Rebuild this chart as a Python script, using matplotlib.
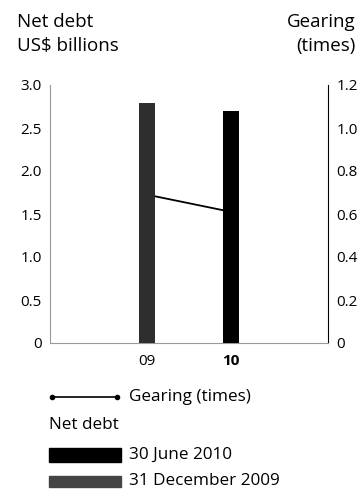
import matplotlib
matplotlib.use('Agg')
import matplotlib.pyplot as plt
from matplotlib.lines import Line2D
from matplotlib.patches import Rectangle

plt.rcParams['font.family'] = ['Open Sans', 'DejaVu Sans']

# data
YEARS      = ['09', '10']
NET_DEBT   = [2.79, 2.70]          # US$ billions
GEARING    = [0.69, 0.61]          # times
BAR_COLORS = ['#2e2e2e', '#000000']

LEFT_TICKS  = [0, 0.5, 1.0, 1.5, 2.0, 2.5, 3.0]
LEFT_LABELS = ['0', '0.5', '1.0', '1.5', '2.0', '2.5', '3.0']
RIGHT_TICKS  = [0, 0.2, 0.4, 0.6, 0.8, 1.0, 1.2]
RIGHT_LABELS = ['0', '0.2', '0.4', '0.6', '0.8', '1.0', '1.2']

TICK_FS  = 11
TITLE_FS = 13.5
LEG_FS   = 12.3

W, H = 359, 492
fig = plt.figure(figsize=(W / 100, H / 100), dpi=100)
ax = fig.add_axes([50 / W, 1 - 343 / H, 278 / W, 258 / H])
ax2 = ax.twinx()

x = list(range(len(YEARS)))
ax.bar(x, NET_DEBT, width=0.2, color=BAR_COLORS, zorder=3)
ax2.plot(x, GEARING, color='black', lw=1.3, zorder=1)
ax.set_zorder(2)
ax.patch.set_visible(False)
ax2.set_zorder(1)

ax.set_xlim(-1.155, 2.155)
ax.set_ylim(0, 3.0)
ax2.set_ylim(0, 1.2)

ax.set_yticks(LEFT_TICKS)
ax.set_yticklabels(LEFT_LABELS, fontsize=TICK_FS)
ax2.set_yticks(RIGHT_TICKS)
ax2.set_yticklabels(RIGHT_LABELS, fontsize=TICK_FS)
ax.set_xticks(x)
ax.set_xticklabels(YEARS, fontsize=TICK_FS)
ax.get_xticklabels()[1].set_fontweight('bold')

ax.tick_params(length=0, pad=6)
ax2.tick_params(length=0, pad=6)
ax.tick_params(axis='x', pad=8)

for a in (ax, ax2):
    a.spines['top'].set_visible(False)
ax.spines['left'].set_color('#9a9a9a')
ax.spines['bottom'].set_color('#9a9a9a')
ax2.spines['left'].set_visible(False)
ax2.spines['bottom'].set_visible(False)
ax2.spines['right'].set_color('#555555')
ax2.spines['right'].set_linewidth(0.7)

# axis titles
fig.text(17 / W, 1 - 22 / H, 'Net debt', fontsize=TITLE_FS, va='center', ha='left')
fig.text(17 / W, 1 - 46 / H, 'US$ billions', fontsize=TITLE_FS, va='center', ha='left')
fig.text(356 / W, 1 - 22 / H, 'Gearing', fontsize=TITLE_FS, va='center', ha='right')
fig.text(356 / W, 1 - 46 / H, '(times)', fontsize=TITLE_FS, va='center', ha='right')

# legend block
ly = 1 - 397 / H
fig.add_artist(Line2D([52 / W, 117 / W], [ly, ly], color='black', lw=1.2,
                      marker='o', ms=3, transform=fig.transFigure))
fig.text(129 / W, ly, 'Gearing (times)', fontsize=LEG_FS, va='center')
fig.text(49 / W, 1 - 425 / H, 'Net debt', fontsize=LEG_FS, va='center')
fig.add_artist(Rectangle((49 / W, 1 - 462 / H), 72 / W, 14 / H,
                         color=BAR_COLORS[1], transform=fig.transFigure))
fig.text(129 / W, 1 - 455 / H, '30 June 2010', fontsize=LEG_FS, va='center')
fig.add_artist(Rectangle((49 / W, 1 - 487 / H), 72 / W, 11 / H,
                         color='#444444', transform=fig.transFigure))
fig.text(129 / W, 1 - 481 / H, '31 December 2009', fontsize=LEG_FS, va='center')

fig.savefig('out.png', dpi=100)
